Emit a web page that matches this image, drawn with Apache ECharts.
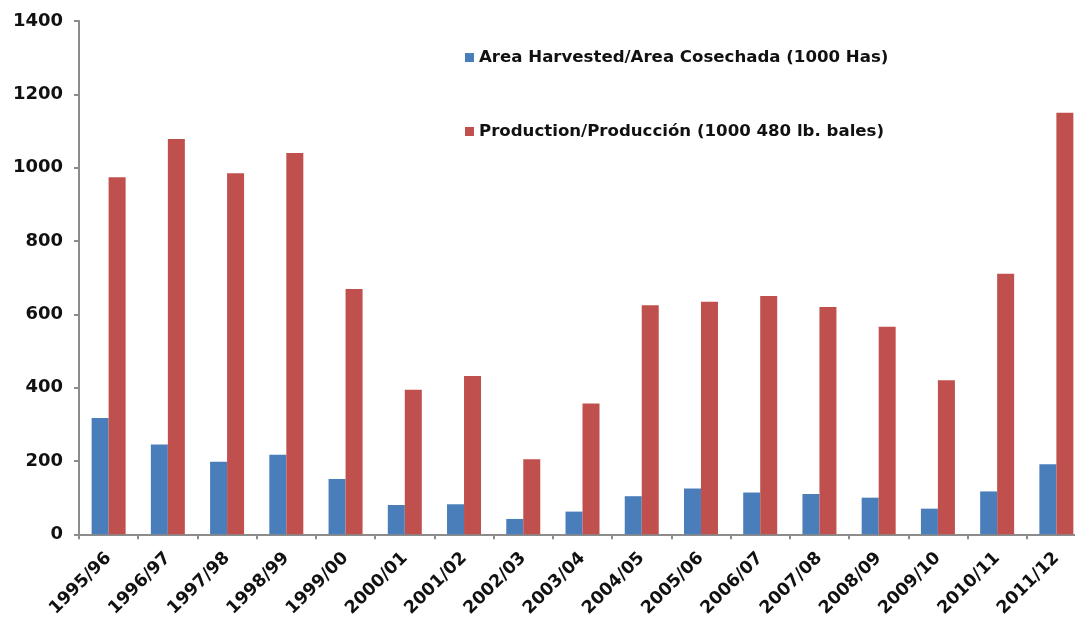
<!DOCTYPE html>
<html>
<head>
<meta charset="utf-8">
<script src="https://cdn.jsdelivr.net/npm/echarts@6/dist/echarts.min.js"></script>
<style>
  html, body { margin: 0; padding: 0; background: #ffffff; overflow: hidden; }
  /* the canvas is a little wider than the window so the last category runs off the right edge */
  #chart { width: 1086px; height: 620px; }
</style>
</head>
<body>
<div id="chart"></div>
<script>
// Marketing years
const seasons = ['1995/96', '1996/97', '1997/98', '1998/99', '1999/00', '2000/01', '2001/02', '2002/03',
  '2003/04', '2004/05', '2005/06', '2006/07', '2007/08', '2008/09', '2009/10', '2010/11', '2011/12'];

// Area harvested, 1000 ha
const areaHarvested = [317, 245, 198, 217, 151, 80, 82, 42, 62, 104, 125, 114, 110, 100, 70, 117, 191];

// Production, 1000 480-lb bales
const production = [974, 1078, 985, 1040, 669, 394, 432, 205, 357, 625, 634, 650, 620, 566, 420, 711, 1150];

const seriesNames = [
  'Area Harvested/Area Cosechada (1000 Has)',
  'Production/Producción (1000 480 lb. bales)'
];

const fontFamily = '"DejaVu Sans", "Liberation Sans", sans-serif';

const chart = echarts.init(document.getElementById('chart'), null, { renderer: 'canvas' });

chart.setOption({
  backgroundColor: '#ffffff',
  animation: false,
  grid: { left: 79, right: 0, top: 21, bottom: 85, containLabel: false },
  legend: {
    orient: 'vertical',
    left: 460,
    top: 44,
    itemWidth: 9,
    itemHeight: 9,
    itemGap: 57,
    icon: 'rect',
    textStyle: { fontFamily, fontWeight: 'bold', fontSize: 16.6, color: '#111111' },
    data: seriesNames
  },
  xAxis: {
    type: 'category',
    data: seasons,
    axisLine: { lineStyle: { color: '#8c8c8c', width: 2 } },
    axisTick: { show: true, alignWithLabel: false, length: 5, lineStyle: { color: '#8c8c8c', width: 2 } },
    axisLabel: {
      rotate: 45,
      interval: 0,
      margin: 21,
      fontFamily,
      fontWeight: 'bold',
      fontSize: 17.5,
      color: '#111111'
    }
  },
  yAxis: {
    type: 'value',
    min: 0,
    max: 1400,
    interval: 200,
    splitLine: { show: false },
    axisLine: { show: true, lineStyle: { color: '#8c8c8c', width: 2 } },
    axisTick: { show: true, length: 5, lineStyle: { color: '#8c8c8c', width: 2 } },
    axisLabel: {
      margin: 16,
      formatter: (v) => String(v),
      fontFamily,
      fontWeight: 'bold',
      fontSize: 18,
      color: '#111111'
    }
  },
  series: [
    {
      name: seriesNames[0],
      type: 'bar',
      data: areaHarvested,
      barWidth: 17,
      barGap: '0%',
      itemStyle: { color: '#4a7ebb' }
    },
    {
      name: seriesNames[1],
      type: 'bar',
      data: production,
      barWidth: 17,
      barGap: '0%',
      itemStyle: { color: '#c0504d' }
    }
  ]
});
</script>
</body>
</html>
